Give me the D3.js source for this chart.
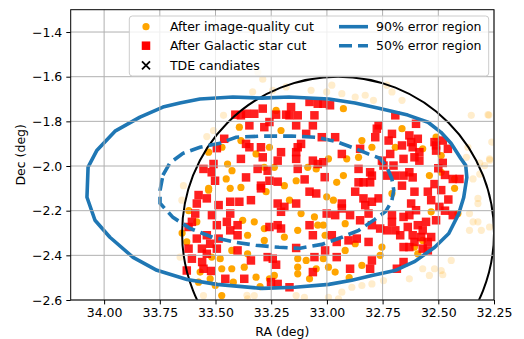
<!DOCTYPE html>
<html>
<head>
<meta charset="utf-8">
<script src="https://cdn.jsdelivr.net/npm/d3@7"></script>
<style>
  body { margin: 0; background: #fff; }
  text { font-family: "DejaVu Sans", sans-serif; font-size: 12.5px; fill: #000; }
</style>
</head>
<body>
<div id="chart"></div>
<script>

// tick labels
var raTicks = [34.00, 33.75, 33.50, 33.25, 33.00, 32.75, 32.50, 32.25];
var decTicks = [-2.6, -2.4, -2.2, -2.0, -1.8, -1.6, -1.4];

// all candidates (faded)
var allCandidates = [
    [33.464,-1.773],[33.509,-1.841],[33.539,-1.868],[33.644,-2.088],
    [33.288,-1.611],[33.333,-1.668],[33.243,-1.661],[33.183,-1.646],[33.071,-1.661],
    [32.978,-1.638],[33.001,-1.668],[32.933,-1.676],[32.873,-1.691],[32.828,-1.683],[32.791,-1.706],
    [32.731,-1.638],[32.708,-1.668],[32.663,-1.706],
    [32.352,-1.773],[32.277,-1.770],[32.367,-1.916],[32.374,-1.961],[32.292,-1.998],[32.270,-1.968],
    [32.344,-2.058],[32.314,-2.036],
    [33.651,-2.153],[33.659,-2.408],[33.554,-2.580],
    [33.326,-2.580],[33.356,-2.595],[33.138,-2.580],[33.101,-2.588],
    [32.888,-2.543],[32.843,-2.535],[32.798,-2.528],[32.933,-2.565],[32.993,-2.588],[32.948,-2.595],[32.746,-2.513],
    [32.322,-2.145],[32.322,-2.168],[32.360,-2.213],[32.344,-2.250],[32.322,-2.250],[32.360,-2.288],
    [32.307,-2.288],[32.270,-2.273],[32.442,-2.423],[32.487,-2.468],[32.570,-2.460],[32.540,-2.490],
    [32.517,-2.460],[32.480,-2.487],[32.630,-2.505],
    [32.273,-1.772],[32.260,-1.893],[32.314,-1.987],[32.269,-1.974],[33.310,-1.579],[33.359,-2.579]
];

// after image-quality cut
var qualityCut = [
    [33.531,-1.938],[33.471,-1.916],[33.446,-1.991],[33.426,-2.021],[33.452,-2.058],
    [33.393,-1.826],[33.386,-1.886],[33.228,-1.751],[33.206,-1.841],[33.258,-1.916],[33.318,-1.946],
    [33.281,-2.006],[33.236,-2.006],[33.138,-2.066],[33.386,-2.096],[33.191,-2.088],[33.086,-2.006],
    [32.926,-1.743],[32.843,-1.886],[32.798,-1.916],[32.858,-1.961],[32.911,-1.968],[32.993,-1.968],
    [32.663,-1.833],[32.926,-2.043],[32.956,-2.073],
    [32.510,-1.871],[32.570,-1.923],[32.487,-1.953],[32.487,-2.028],[32.540,-2.043],[32.427,-2.058],
    [33.531,-2.108],[33.584,-2.250],[33.629,-2.340],[33.517,-2.408],[33.479,-2.415],[33.427,-2.378],
    [33.472,-2.460],[33.427,-2.460],[33.524,-2.505],[33.569,-2.475],[33.472,-2.580],
    [33.273,-2.115],[33.168,-2.153],[33.116,-2.213],[33.378,-2.243],[33.326,-2.250],[33.281,-2.280],
    [33.356,-2.310],[33.191,-2.318],[33.131,-2.288],[33.056,-2.228],[33.041,-2.265],[33.281,-2.333],
    [33.356,-2.393],[33.371,-2.453],[33.318,-2.498],[33.131,-2.415],[33.093,-2.423],[33.131,-2.453],
    [33.131,-2.483],[33.048,-2.460],[33.236,-2.490],
    [33.001,-2.138],[32.971,-2.153],[32.708,-2.123],[33.016,-2.265],[33.008,-2.310],[32.918,-2.258],
    [32.873,-2.348],[32.918,-2.378],[33.016,-2.415],[32.993,-2.453],[32.963,-2.475],[32.843,-2.445],
    [32.753,-2.363],
    [32.427,-2.100],[32.532,-2.205],[32.412,-2.213],[32.570,-2.333],[32.607,-2.363],[32.592,-2.393],
    [33.576,-2.520],[33.501,-2.535],[33.258,-2.505],[33.078,-2.505],[32.761,-2.400],[33.048,-2.013],
    [33.531,-2.100],[33.434,-2.100],[32.693,-1.916],[33.300,-2.540],[33.420,-2.520],[32.900,-2.500],
    [33.650,-2.300],[33.620,-2.200]
];

// after Galactic star cut
var galacticCut = [
    [33.461,-1.878],[33.494,-1.920],[33.509,-1.991],[33.554,-2.013],[33.517,-2.028],[33.502,-2.066],[33.411,-1.770],
    [33.386,-1.773],[33.363,-1.766],[33.326,-1.766],[33.288,-1.743],[33.258,-1.803],[33.228,-1.770],
    [33.161,-1.736],[33.168,-1.773],[33.131,-1.773],[33.056,-1.773],[33.078,-1.713],[33.348,-1.818],
    [33.281,-1.826],[33.138,-1.818],[33.063,-1.818],[33.363,-1.901],[33.348,-1.916],[33.296,-1.916],
    [33.116,-1.901],[33.131,-1.916],[33.093,-1.856],[33.288,-1.961],[33.206,-1.938],[33.138,-1.938],
    [33.221,-1.976],[33.138,-1.968],[33.386,-1.968],[33.311,-2.013],[33.266,-2.021],[33.131,-2.013],
    [33.063,-1.976],[33.041,-1.991],[33.363,-2.051],[33.258,-2.066],[33.221,-2.070],[33.296,-2.088],
    [33.016,-1.721],[32.986,-1.728],[33.023,-1.871],[32.963,-1.871],[32.693,-1.773],[32.768,-1.818],
    [32.783,-1.871],[32.723,-1.886],[32.708,-1.856],[32.663,-1.908],[32.716,-1.946],[32.851,-1.923],
    [33.016,-1.983],[32.933,-1.946],[32.858,-2.013],[32.806,-2.028],[32.746,-1.998],[32.701,-1.998],
    [32.656,-1.968],[32.656,-2.043],[32.663,-2.088],[32.836,-2.073],[32.806,-2.073],
    [32.600,-1.811],[32.630,-1.863],[32.592,-1.878],[32.615,-1.916],[32.607,-1.961],[32.585,-1.976],
    [32.517,-1.893],[32.510,-1.931],[32.480,-1.886],[32.457,-1.923],[32.480,-1.986],[32.435,-2.058],
    [32.405,-2.058],[32.630,-2.028],[32.615,-2.051],[32.517,-2.081],
    [33.576,-2.130],[33.539,-2.145],[33.584,-2.168],[33.591,-2.213],[33.486,-2.175],[33.434,-2.160],
    [33.516,-2.220],[33.434,-2.213],[33.449,-2.250],[33.494,-2.265],[33.434,-2.288],[33.621,-2.273],
    [33.584,-2.325],[33.539,-2.310],[33.486,-2.325],[33.494,-2.370],[33.561,-2.370],[33.621,-2.370],
    [33.606,-2.415],[33.539,-2.393],[33.554,-2.460],[33.629,-2.468],[33.456,-2.505],
    [33.393,-2.160],[33.341,-2.153],[33.296,-2.100],[33.221,-2.168],[33.191,-2.183],[33.206,-2.205],
    [33.138,-2.168],[33.078,-2.115],[33.048,-2.123],[33.401,-2.265],[33.258,-2.273],[33.221,-2.265],
    [33.206,-2.280],[33.078,-2.265],[33.063,-2.310],[33.401,-2.310],[33.401,-2.378],[33.341,-2.423],
    [33.266,-2.408],[33.243,-2.415],[33.228,-2.442],[33.138,-2.367],[33.056,-2.408],[33.063,-2.475],
    [33.371,-2.505],[33.251,-2.520],[33.221,-2.528],[33.168,-2.543],
    [32.873,-2.115],[32.836,-2.145],[32.798,-2.160],[32.768,-2.145],[32.933,-2.190],[33.001,-2.213],
    [32.963,-2.220],[32.896,-2.220],[32.813,-2.213],[32.851,-2.243],[32.798,-2.265],[32.761,-2.280],
    [32.708,-2.220],[32.708,-2.250],[32.693,-2.288],[32.656,-2.228],[32.978,-2.310],[32.956,-2.340],
    [32.903,-2.333],[32.866,-2.325],[32.813,-2.340],[32.656,-2.363],[32.956,-2.408],[32.896,-2.460],
    [32.798,-2.423],[32.806,-2.460],[32.656,-2.430],[32.686,-2.460],
    [32.607,-2.115],[32.547,-2.115],[32.487,-2.108],[32.532,-2.153],[32.495,-2.183],[32.622,-2.168],
    [32.600,-2.198],[32.510,-2.243],[32.555,-2.250],[32.435,-2.220],[32.592,-2.265],[32.570,-2.288],
    [32.532,-2.318],[32.615,-2.310],[32.607,-2.340],[32.570,-2.370],[32.547,-2.378],
    [33.183,-1.770],[33.041,-1.721],[32.622,-1.893],[32.585,-1.938],[32.510,-1.908],[32.630,-2.220],
    [32.637,-2.273],[32.577,-2.318],[32.547,-2.340],[32.630,-2.363],[32.828,-2.175],[32.731,-2.288],
    [32.671,-2.310],[32.933,-2.168],[33.008,-2.378],[33.606,-2.250],[33.524,-2.348],[32.776,-1.833],
    [32.753,-1.976],[32.731,-2.043],[32.693,-2.043],[32.798,-2.043],[32.858,-2.073],
    [32.500,-2.010],[32.470,-2.040],[32.455,-2.150],[32.470,-2.200],[33.560,-2.430],[33.520,-2.470],
    [33.100,-2.060],[33.010,-2.050]
];

// 90% error region contour
var contour90 = [
    [33.292,-1.696],[33.422,-1.691],[33.570,-1.700],[33.660,-1.718],[33.736,-1.736],[33.839,-1.781],
    [33.951,-1.844],[34.032,-1.929],[34.072,-2.005],[34.077,-2.140],[34.041,-2.243],[33.974,-2.319],
    [33.870,-2.409],[33.763,-2.467],[33.628,-2.508],[33.494,-2.530],[33.292,-2.548],[33.144,-2.543],
    [32.991,-2.530],[32.888,-2.512],[32.798,-2.490],[32.695,-2.468],[32.605,-2.427],[32.516,-2.364],
    [32.453,-2.302],[32.408,-2.213],[32.386,-2.141],[32.372,-2.051],[32.377,-1.997],[32.399,-1.966],
    [32.443,-1.898],[32.488,-1.849],[32.546,-1.804],[32.637,-1.772],[32.767,-1.741],[32.874,-1.718],
    [32.991,-1.700],[33.170,-1.691]
];

// 50% error region contour
var contour50 = [
    [33.736,-2.041],[33.705,-1.987],[33.646,-1.943],[33.570,-1.916],[33.480,-1.898],[33.408,-1.871],
    [33.292,-1.866],[33.157,-1.866],[33.050,-1.871],[32.964,-1.889],[32.888,-1.916],[32.812,-1.947],
    [32.762,-1.965],[32.731,-2.005],[32.709,-2.055],[32.700,-2.108],[32.709,-2.158],[32.736,-2.203],
    [32.785,-2.239],[32.857,-2.288],[32.933,-2.319],[33.023,-2.351],[33.126,-2.369],[33.215,-2.364],
    [33.319,-2.355],[33.408,-2.342],[33.511,-2.320],[33.615,-2.279],[33.691,-2.230],[33.749,-2.167],
    [33.749,-2.109]
];

// search circle: centre (RA, Dec) and radius in deg
var circleCenter = [32.95, -2.30];
var circleRadius = 0.70;


SkyMap = function(_parentElement){
    this.parentElement = _parentElement;
    this.initVis();
}

SkyMap.prototype.initVis = function(){
    var vis = this;

    vis.margin = { top: 9.7, right: 30, bottom: 39, left: 70.7 };
    vis.width = 524 - vis.margin.left - vis.margin.right;
    vis.height = 339 - vis.margin.top - vis.margin.bottom;

    vis.root = d3.select("#" + vis.parentElement).append("svg")
        .attr("width", 524)
        .attr("height", 339);

    vis.svg = vis.root.append("g")
        .attr("transform", "translate(" + vis.margin.left + "," + vis.margin.top + ")");

    vis.root.append("defs").append("clipPath").attr("id", "plot-clip")
        .append("rect")
        .attr("width", vis.width)
        .attr("height", vis.height);

    vis.x = d3.scaleLinear().domain([34.15, 32.25]).range([0, vis.width]);
    vis.y = d3.scaleLinear().domain([-2.6, -1.3]).range([vis.height, 0]);

    vis.updateVis();
}

SkyMap.prototype.updateVis = function(){
    var vis = this;

    var plot = vis.svg.append("g").attr("clip-path", "url(#plot-clip)");

    // faded candidates
    plot.append("g").selectAll("circle")
        .data(allCandidates)
        .enter().append("circle")
        .attr("cx", function(d) { return vis.x(d[0]); })
        .attr("cy", function(d) { return vis.y(d[1]); })
        .attr("r", 3.6)
        .attr("fill", "orange")
        .attr("fill-opacity", 0.2);

    plot.append("g").selectAll("circle")
        .data(qualityCut)
        .enter().append("circle")
        .attr("cx", function(d) { return vis.x(d[0]); })
        .attr("cy", function(d) { return vis.y(d[1]); })
        .attr("r", 3.6)
        .attr("fill", "orange");

    var s = 8.5;
    plot.append("g").selectAll("rect")
        .data(galacticCut)
        .enter().append("rect")
        .attr("x", function(d) { return vis.x(d[0]) - s / 2; })
        .attr("y", function(d) { return vis.y(d[1]) - s / 2; })
        .attr("width", s)
        .attr("height", s)
        .attr("fill", "red")
        .attr("fill-opacity", 0.88);

    // grid (drawn over scatter, like matplotlib)
    vis.svg.append("g").selectAll("line.gx")
        .data(raTicks)
        .enter().append("line")
        .attr("x1", function(d) { return vis.x(d); })
        .attr("x2", function(d) { return vis.x(d); })
        .attr("y1", 0).attr("y2", vis.height)
        .attr("stroke", "#b0b0b0").attr("stroke-width", 1);

    vis.svg.append("g").selectAll("line.gy")
        .data(decTicks)
        .enter().append("line")
        .attr("y1", function(d) { return vis.y(d); })
        .attr("y2", function(d) { return vis.y(d); })
        .attr("x1", 0).attr("x2", vis.width)
        .attr("stroke", "#b0b0b0").attr("stroke-width", 1);

    // circle
    plot.append("ellipse")
        .attr("cx", vis.x(circleCenter[0]))
        .attr("cy", vis.y(circleCenter[1]))
        .attr("rx", vis.x(circleCenter[0] - circleRadius) - vis.x(circleCenter[0]))
        .attr("ry", vis.y(circleCenter[1] - circleRadius) - vis.y(circleCenter[1]))
        .attr("fill", "none")
        .attr("stroke", "black")
        .attr("stroke-width", 2);

    var line = d3.line()
        .x(function(d) { return vis.x(d[0]); })
        .y(function(d) { return vis.y(d[1]); })
        .curve(d3.curveLinearClosed);

    plot.append("path")
        .attr("d", line(contour90))
        .attr("fill", "none")
        .attr("stroke", "#1f77b4")
        .attr("stroke-width", 3.6)
        .attr("stroke-linejoin", "round");

    plot.append("path")
        .attr("d", line(contour50))
        .attr("fill", "none")
        .attr("stroke", "#1f77b4")
        .attr("stroke-width", 3.6)
        .attr("stroke-dasharray", "13,6");

    // axes
    var xAxis = d3.axisBottom(vis.x)
        .tickValues(raTicks)
        .tickSize(4.4)
        .tickPadding(4)
        .tickFormat(d3.format(".2f"));

    var yAxis = d3.axisLeft(vis.y)
        .tickValues(decTicks)
        .tickSize(4.4)
        .tickPadding(4)
        .tickFormat(function(d) { return d3.format(".1f")(d).replace("-", "\u2212"); });

    var gx = vis.svg.append("g")
        .attr("transform", "translate(0," + vis.height + ")")
        .call(xAxis);
    var gy = vis.svg.append("g").call(yAxis);

    [gx, gy].forEach(function(g) {
        g.select(".domain").remove();
        g.selectAll("text")
            .style("font-family", "DejaVu Sans, sans-serif")
            .style("font-size", "12.5px")
            .attr("fill", "#000");
        g.selectAll("line").attr("stroke", "#000").attr("stroke-width", 1);
    });

    // spines
    vis.svg.append("rect")
        .attr("width", vis.width)
        .attr("height", vis.height)
        .attr("fill", "none")
        .attr("stroke", "black")
        .attr("stroke-width", 1);

    // axis labels
    vis.svg.append("text")
        .text("RA (deg)")
        .attr("x", vis.width / 2)
        .attr("y", vis.height + 36)
        .attr("text-anchor", "middle");

    vis.svg.append("text")
        .text("Dec (deg)")
        .attr("transform", "translate(" + (-46) + "," + (vis.height / 2) + ") rotate(-90)")
        .attr("text-anchor", "middle");

    // legend
    var lg = vis.svg.append("g").attr("transform", "translate(58.6,6.3)");
    lg.append("rect")
        .attr("width", 359.4).attr("height", 60)
        .attr("rx", 3)
        .attr("fill", "white").attr("fill-opacity", 0.8)
        .attr("stroke", "#cccccc").attr("stroke-width", 1);

    var rows = [10.7, 29.7, 49.3];
    lg.append("circle").attr("cx", 16.7).attr("cy", rows[0]).attr("r", 3.6).attr("fill", "orange");
    lg.append("rect").attr("x", 16.7 - s / 2).attr("y", rows[1] - s / 2)
        .attr("width", s).attr("height", s).attr("fill", "red");
    lg.append("path")
        .attr("d", "M" + (16.7 - 4) + "," + (rows[2] - 4) + "l8,8M" + (16.7 - 4) + "," + (rows[2] + 4) + "l8,-8")
        .attr("stroke", "black").attr("stroke-width", 1.8);

    var labels1 = ["After image-quality cut", "After Galactic star cut", "TDE candiates"];
    labels1.forEach(function(t, i) {
        lg.append("text").text(t).attr("x", 40.7).attr("y", rows[i]).attr("dy", "0.36em");
    });

    lg.append("line").attr("x1", 209.7).attr("x2", 238.7).attr("y1", rows[0]).attr("y2", rows[0])
        .attr("stroke", "#1f77b4").attr("stroke-width", 3.6);
    lg.append("line").attr("x1", 209.7).attr("x2", 238.7).attr("y1", rows[1]).attr("y2", rows[1])
        .attr("stroke", "#1f77b4").attr("stroke-width", 3.6).attr("stroke-dasharray", "13,6");

    lg.append("text").text("90% error region").attr("x", 246.7).attr("y", rows[0]).attr("dy", "0.36em");
    lg.append("text").text("50% error region").attr("x", 246.7).attr("y", rows[1]).attr("dy", "0.36em");
}

new SkyMap("chart");
</script>
</body>
</html>
